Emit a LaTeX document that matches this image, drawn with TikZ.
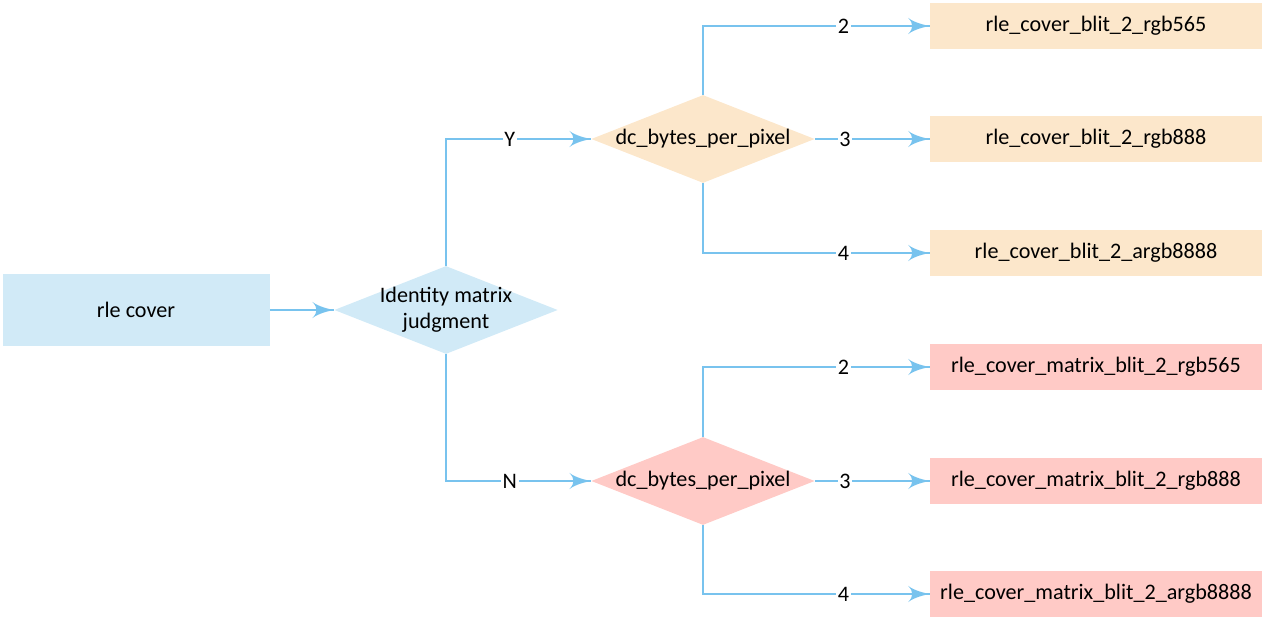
\documentclass[tikz,border=0pt]{standalone}
\usepackage{fontspec}
\setmainfont{Carlito}
\usepackage{tikz}
\usetikzlibrary{arrows}
\usetikzlibrary{decorations.markings}
\usetikzlibrary{shapes.geometric}
\usetikzlibrary{positioning}
\definecolor{flowline}{HTML}{78C3EE}
\definecolor{bluefill}{HTML}{D1EAF7}
\definecolor{orangefill}{HTML}{FCE7CB}
\definecolor{pinkfill}{HTML}{FFCAC6}
\tikzset{arr/.style = {decoration={markings,
                                   mark=at position 1 with {\arrow[scale=2]{latex'}}},
                       postaction={decorate}}}
\tikzset{link/.style = {draw=flowline, line width=1.1pt, arr}}
\tikzset{boxnode/.style = {rectangle, inner sep=0, minimum width=6.64cm, minimum height=0.92cm}}
\tikzset{decide/.style = {diamond, aspect=2.54, inner sep=0, minimum width=4.47cm, minimum height=1.76cm, align=center}}
\tikzset{lbl/.style = {fill=white, inner sep=1pt}}

\begin{document}
\begin{tikzpicture}[font=\fontsize{12.6}{15}\selectfont]
      \useasboundingbox (0, 0) rectangle (25.32, 12.42);

      \node [rectangle, fill=bluefill, minimum width=5.34cm, minimum height=1.44cm] (cover) at (2.72, 6.22) {rle cover};
      \node [decide, fill=bluefill, inner sep=-4pt] (ident) at (8.92, 6.22) {Identity matrix\\judgment};
      \node [decide, fill=orangefill] (bppY) at (14.06, 9.64) {dc\_bytes\_per\_pixel};
      \node [decide, fill=pinkfill] (bppN) at (14.06, 2.80) {dc\_bytes\_per\_pixel};

      \node [boxnode, fill=orangefill] (blit565) at (21.92, 11.90) {rle\_cover\_blit\_2\_rgb565};
      \node [boxnode, fill=orangefill] (blit888) at (21.92, 9.64) {rle\_cover\_blit\_2\_rgb888};
      \node [boxnode, fill=orangefill] (blit8888) at (21.92, 7.36) {rle\_cover\_blit\_2\_argb8888};
      \node [boxnode, fill=pinkfill] (mblit565) at (21.92, 5.08) {rle\_cover\_matrix\_blit\_2\_rgb565};
      \node [boxnode, fill=pinkfill] (mblit888) at (21.92, 2.80) {rle\_cover\_matrix\_blit\_2\_rgb888};
      \node [boxnode, fill=pinkfill] (mblit8888) at (21.92, 0.54) {rle\_cover\_matrix\_blit\_2\_argb8888};

      \draw [link] (cover) -- (ident);
      \draw [link] (ident.north) |- (bppY.west) node [lbl, pos=0.72] {Y};
      \draw [link] (ident.south) |- (bppN.west) node [lbl, pos=0.72] {N};

      \draw [link] (bppY.north) |- (blit565.west) node [lbl, pos=0.81] {2};
      \draw [link] (bppY.east) -- (blit888.west) node [lbl, pos=0.26] {3};
      \draw [link] (bppY.south) |- (blit8888.west) node [lbl, pos=0.81] {4};

      \draw [link] (bppN.north) |- (mblit565.west) node [lbl, pos=0.81] {2};
      \draw [link] (bppN.east) -- (mblit888.west) node [lbl, pos=0.26] {3};
      \draw [link] (bppN.south) |- (mblit8888.west) node [lbl, pos=0.81] {4};
    \end{tikzpicture}
\end{document}
